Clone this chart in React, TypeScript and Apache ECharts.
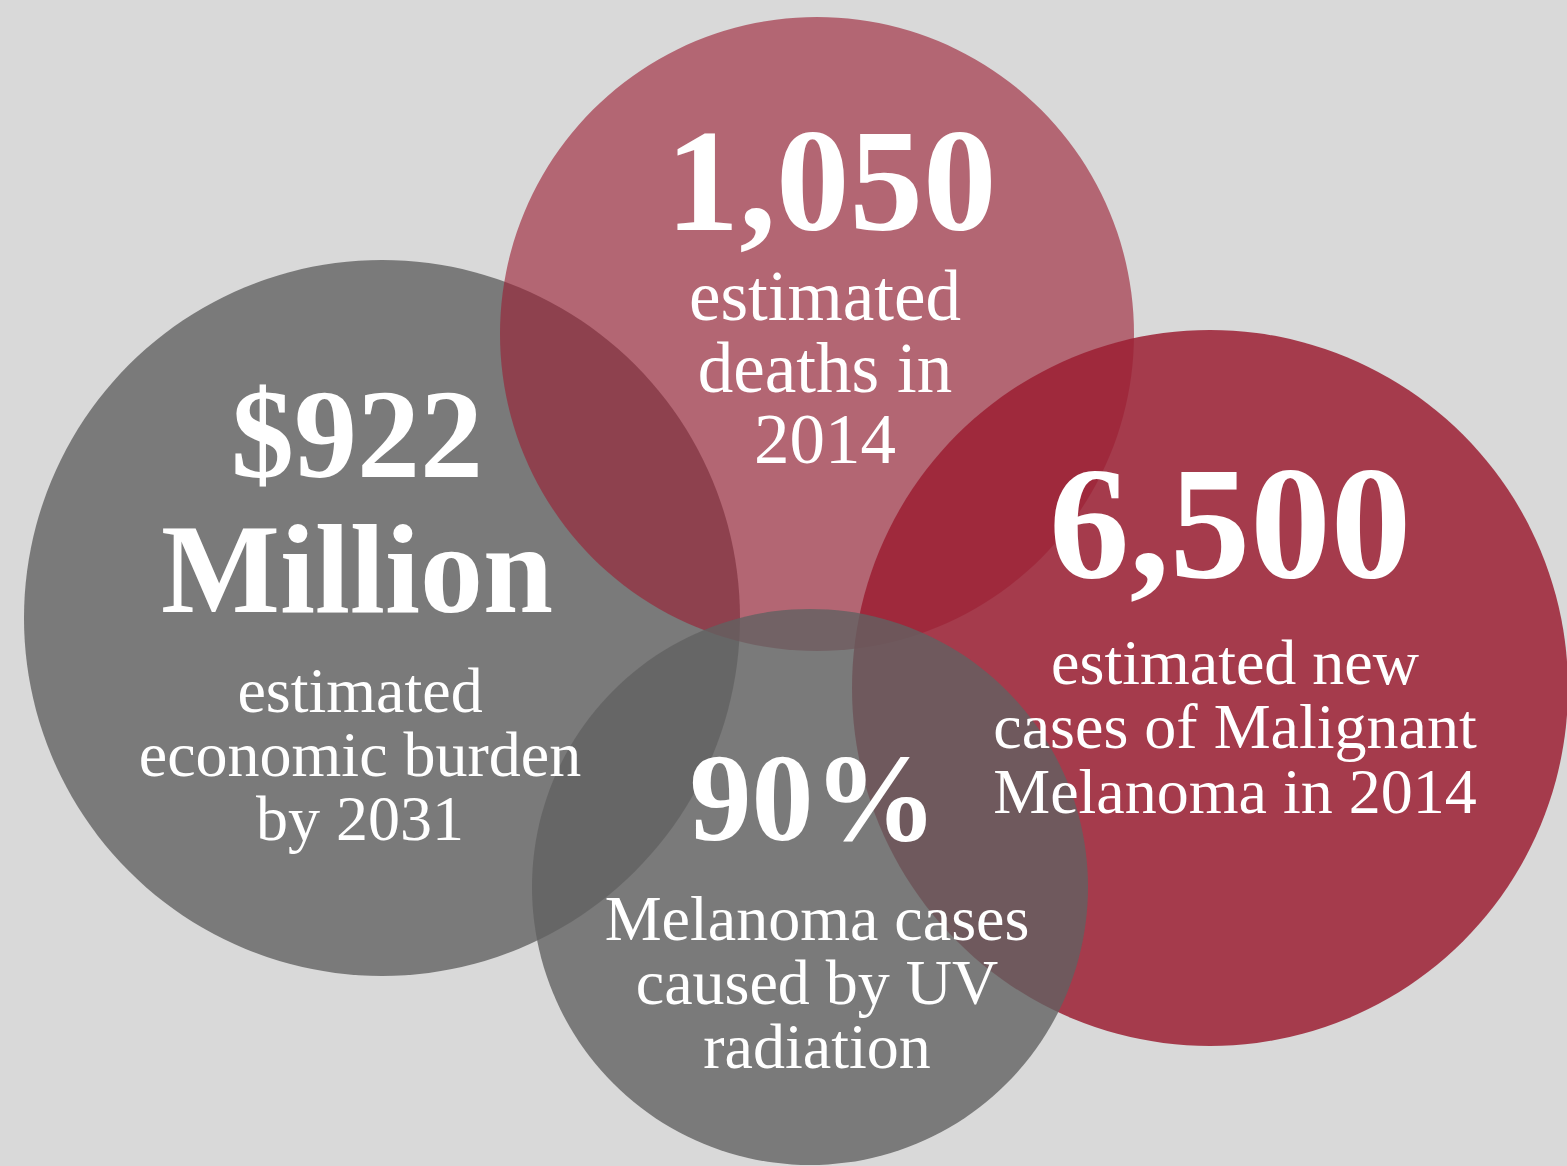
import React, { useEffect, useRef } from "react";
import * as echarts from "echarts";

// ---- data ----
const circleNames = ["Economic burden", "Deaths", "New cases", "UV radiation"];
const centerX = [382, 817, 1210, 810];
const centerY = [618, 334, 688, 887];
const radii = [358, 317, 358, 278];
const headlines = [["$922", "Million"], ["1,050"], ["6,500"], ["90%"]];
const captions = [
  ["estimated", "economic burden", "by 2031"],
  ["estimated", "deaths in", "2014"],
  ["estimated new", "cases of Malignant", "Melanoma in 2014"],
  ["Melanoma cases", "caused by UV", "radiation"],
];

// ---- styles ----
const W = 1567;
const H = 1166;
const FONT = "'Liberation Serif', 'Times New Roman', serif";
const fills = [
  "rgba(97,97,97,0.8)",
  "rgba(155,30,50,0.61)",
  "rgba(155,30,50,0.85)",
  "rgba(97,97,97,0.8)",
];
const labelStyles = [
  { big: [126, 126], bigLH: [92, 178], bigPad: [[0, 6, 0, 0], [0, 6, 0, 0]], small: 64, smallLH: 64, offset: [-22, 1] },
  { big: [147], bigLH: [160], bigPad: [[0, 0, 0, 12]], small: 71, smallLH: 71.5, offset: [8, -46.5] },
  { big: [161], bigLH: [213], bigPad: [[0, 10, 0, 0]], small: 64, smallLH: 64.5, offset: [25, -68] },
  { big: [124], bigLH: [177], bigPad: [[0, 7, 0, 0]], small: 64, smallLH: 64, offset: [7, 7] },
];

function buildLabel(i: number) {
  const st = labelStyles[i];
  const rich: Record<string, any> = {};
  const parts: string[] = [];
  headlines[i].forEach((t, j) => {
    rich["b" + j] = {
      fontFamily: FONT,
      fontWeight: "bold",
      fontSize: st.big[j],
      lineHeight: st.bigLH[j],
      color: "#ffffff",
      align: "center",
      padding: st.bigPad[j],
      textBorderWidth: 0,
    };
    parts.push(`{b${j}|${t}}`);
  });
  rich.s = {
    fontFamily: FONT,
    fontWeight: "normal",
    fontSize: st.small,
    lineHeight: st.smallLH,
    color: "#ffffff",
    align: "center",
    textBorderWidth: 0,
  };
  captions[i].forEach((t) => parts.push(`{s|${t}}`));
  return {
    show: true,
    position: "inside",
    offset: st.offset,
    formatter: parts.join("\n"),
    rich,
    color: "#ffffff",
    textBorderWidth: 0,
    align: "center",
  };
}

export default function App() {
  const ref = useRef<HTMLDivElement>(null);
  useEffect(() => {
    if (!ref.current) return;
    const chart = echarts.init(ref.current, undefined, { renderer: "svg" });
    const circleData = centerX.map((x, i) => ({
      name: circleNames[i],
      value: [x, centerY[i], radii[i]],
      itemStyle: { color: fills[i], opacity: 1 },
    }));
    const labelData = centerX.map((x, i) => ({
      name: circleNames[i],
      value: [x, centerY[i], radii[i]],
      itemStyle: { color: "rgba(0,0,0,0)", opacity: 1 },
      label: buildLabel(i),
    }));
    chart.setOption({
      animation: false,
      backgroundColor: "#d9d9d9",
      grid: { left: 0, right: 0, top: 0, bottom: 0 },
      xAxis: { type: "value", min: 0, max: W, show: false },
      yAxis: { type: "value", min: 0, max: H, inverse: true, show: false },
      series: [
        {
          type: "scatter",
          symbol: "circle",
          symbolSize: (v: number[]) => v[2] * 2,
          data: circleData,
          silent: true,
          z: 2,
          label: { show: false },
        },
        {
          type: "scatter",
          symbol: "circle",
          symbolSize: (v: number[]) => v[2] * 2,
          data: labelData,
          silent: true,
          z: 5,
        },
      ],
    });
    return () => chart.dispose();
  }, []);
  return (
    <div
      ref={ref}
      style={{ position: "absolute", left: 0, top: 0, width: W, height: H }}
    />
  );
}
